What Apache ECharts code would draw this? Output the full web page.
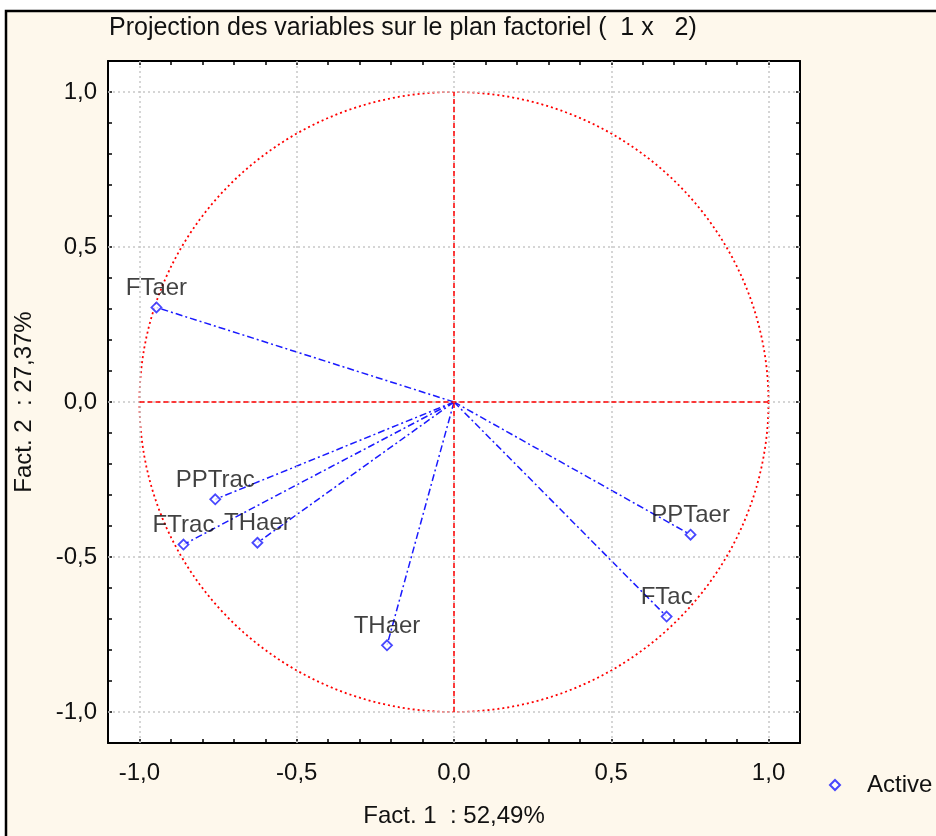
<!DOCTYPE html>
<html>
<head>
<meta charset="utf-8">
<script src="https://cdn.jsdelivr.net/npm/echarts@6/dist/echarts.min.js"></script>
<style>
html,body{margin:0;padding:0;background:#ffffff;}
#chart{width:936px;height:836px;}
</style>
</head>
<body>
<div id="chart"></div>
<script>
// ---- data ----
const varNames = ['FTaer', 'PPTrac', 'FTrac', 'THaer', 'THaer', 'PPTaer', 'FTac'];
const fact1 = [-0.946, -0.759, -0.860, -0.625, -0.213, 0.752, 0.676];
const fact2 = [0.305, -0.314, -0.460, -0.454, -0.785, -0.428, -0.692];
const gridValues = [-1.0, -0.5, 0.0, 0.5, 1.0];
const axisMin = -1.1, axisMax = 1.1;
const titleText = 'Projection des variables sur le plan factoriel (  1 x   2)';
const xName = 'Fact. 1  : 52,49%';
const yName = 'Fact. 2  : 27,37%';
const legendName = 'Active';

const FONT = '"Liberation Sans", Arial, sans-serif';
const FS = 24;
const chart = echarts.init(document.getElementById('chart'), null, {renderer: 'canvas'});

function isMajor(v) { return Math.abs(v * 2 - Math.round(v * 2)) < 1e-6; }
function fmt(v) { return isMajor(v) ? v.toFixed(1).replace('.', ',') : ''; }

const points = fact1.map((x, i) => [x, fact2[i]]);

function axisCommon(pos, showLabel, margin) {
  return {
    type: 'value', min: axisMin, max: axisMax, interval: 0.1, position: pos,
    axisLine: {show: true, onZero: false, lineStyle: {color: '#000', width: 2}},
    axisTick: {show: true, inside: true, length: 4, lineStyle: {color: '#000', width: 1.5}},
    axisLabel: {show: showLabel, formatter: fmt, color: '#111', fontFamily: FONT, fontSize: FS, margin: margin || 12, showMinLabel: true, showMaxLabel: true},
    splitLine: {show: false}
  };
}

const xMain = axisCommon('bottom', true, 18);
xMain.name = xName; xMain.nameLocation = 'middle'; xMain.nameGap = 61;
xMain.nameTextStyle = {color: '#111', fontFamily: FONT, fontSize: FS};
const yMain = axisCommon('left', true, 11);
yMain.name = yName; yMain.nameLocation = 'middle'; yMain.nameGap = 72;
yMain.nameTextStyle = {color: '#111', fontFamily: FONT, fontSize: FS};

const option = {
  backgroundColor: '#ffffff',
  animation: false,
  graphic: [
    {type: 'rect', z: -10, shape: {x: 6, y: 11, width: 940, height: 840}, style: {fill: '#fef8ec', stroke: '#000', lineWidth: 2.5}},
    {type: 'rect', z: -9, shape: {x: 108, y: 61, width: 692, height: 682}, style: {fill: '#ffffff'}}
  ],
  title: {
    text: titleText, left: 104, top: 11,
    textStyle: {color: '#111', fontFamily: FONT, fontSize: 25, fontWeight: 'normal'}
  },
  legend: {
    data: [legendName], left: 824, top: 768, itemWidth: 10, itemHeight: 10, itemGap: 6,
    textStyle: {color: '#111', fontFamily: FONT, fontSize: FS, padding: [0, 0, 0, 22]}
  },
  grid: {left: 108, right: 136, top: 61, bottom: 93, containLabel: false},
  xAxis: [xMain, axisCommon('top', false)],
  yAxis: [yMain, axisCommon('right', false)],
  series: [
    {
      type: 'line', data: [], silent: true, z: 1,
      markLine: {
        silent: true, symbol: 'none', label: {show: false}, animation: false,
        lineStyle: {color: '#c8c8c8', type: [2, 3], width: 1.5},
        data: gridValues.map(v => ({xAxis: v})).concat(gridValues.map(v => ({yAxis: v})))
      }
    },
    {
      type: 'line', data: [], silent: true, z: 2,
      markLine: {
        silent: true, symbol: 'none', label: {show: false}, animation: false,
        lineStyle: {color: '#ff0000', type: [5, 3], width: 1.5},
        data: [
          [{coord: [gridValues[0], 0]}, {coord: [gridValues[4], 0]}],
          [{coord: [0, gridValues[0]]}, {coord: [0, gridValues[4]]}]
        ]
      }
    },
    {
      // correlation circle (radius 1)
      type: 'custom', silent: true, z: 3, data: [[0, 0]],
      renderItem: function (params, api) {
        const pts = [];
        for (let k = 0; k <= 360; k += 2) {
          const t = k * Math.PI / 180;
          pts.push(api.coord([Math.cos(t), Math.sin(t)]));
        }
        return {type: 'polyline', shape: {points: pts}, style: {fill: 'none', stroke: '#ff0000', lineWidth: 1.8, lineDash: [2, 3]}};
      }
    },
    {
      type: 'custom', silent: true, z: 4, data: points,
      renderItem: function (params, api) {
        const o = api.coord([0, 0]);
        const p = api.coord([api.value(0), api.value(1)]);
        return {type: 'line', shape: {x1: o[0], y1: o[1], x2: p[0], y2: p[1]}, style: {stroke: '#1a1aff', lineWidth: 1.5, lineDash: [7, 3, 2, 3]}};
      }
    },
    {
      name: legendName, type: 'scatter', z: 5, data: points,
      symbol: 'diamond', symbolSize: 10,
      itemStyle: {color: '#ffffff', borderColor: '#1a1aff', borderWidth: 1.8},
      label: {
        show: true, position: 'top', distance: 1,
        formatter: p => varNames[p.dataIndex],
        color: '#111', fontFamily: FONT, fontSize: FS
      }
    }
  ]
};
chart.setOption(option);
</script>
</body>
</html>
